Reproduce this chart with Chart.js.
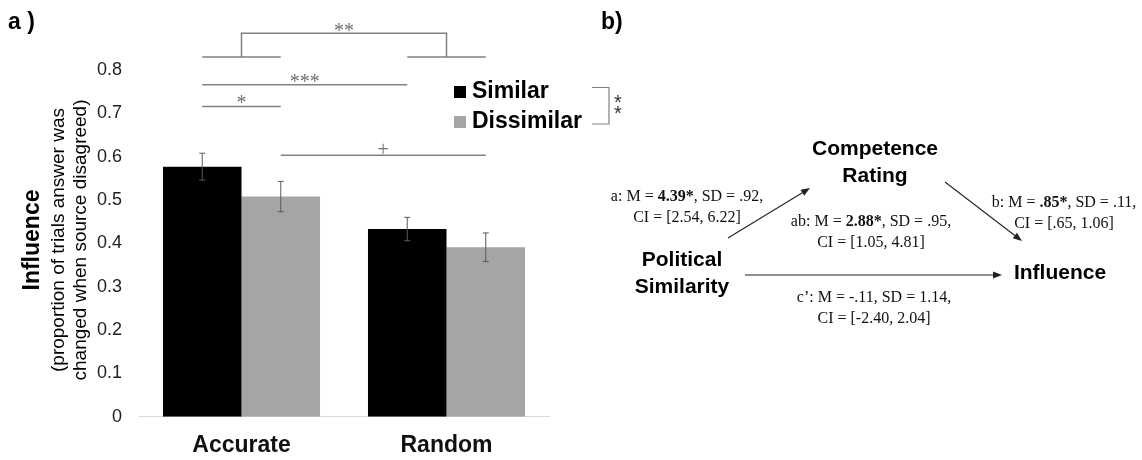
<!DOCTYPE html>
<html>
<head>
<meta charset="UTF-8">
<title>Influence</title>
<script src="https://cdn.jsdelivr.net/npm/chart.js@4.4.1/dist/chart.umd.min.js"></script>
<style>
  html, body { margin: 0; padding: 0; background: #fff; }
  #wrap { width: 1142px; height: 460px; }
</style>
</head>
<body>
<div id="wrap"><canvas id="wykres" width="1142" height="460"></canvas></div>
<script>
const categories = ['Accurate', 'Random'];
const seriesNames = ['Similar', 'Dissimilar'];
const similar = [0.577, 0.433];
const dissimilar = [0.508, 0.391];
const similarErr = [0.031, 0.027];
const dissimilarErr = [0.035, 0.033];
const yTickLabels = ['0', '0.1', '0.2', '0.3', '0.4', '0.5', '0.6', '0.7', '0.8'];

// significance marks between bars: [dataset, index], height in axis units
const comparisons = [
  { a: [0, 0], b: [1, 0], level: 0.716, mark: '*' },
  { a: [0, 0], b: [0, 1], level: 0.766, mark: '***' },
  { a: [1, 0], b: [1, 1], level: 0.603, mark: '+' }
];
const groupComparison = { level: 0.83, top: 0.885, mark: '**' };

// panel b text (<b> marks bold parts)
const pathLabels = [
  { x: 687, y: 197, lines: ['a: M = <b>4.39*</b>, SD = .92,', 'CI = [2.54, 6.22]'] },
  { x: 871, y: 222, lines: ['ab: M = <b>2.88*</b>, SD = .95,', 'CI = [1.05, 4.81]'] },
  { x: 1064, y: 203, lines: ['b: M = <b>.85*</b>, SD = .11,', 'CI = [.65, 1.06]'] },
  { x: 874, y: 298, lines: ['c\u2019: M = -.11, SD = 1.14,', 'CI = [-2.40, 2.04]'] }
];
const nodes = [
  { x: 875, y: 149, lines: ['Competence', 'Rating'] },
  { x: 682, y: 260, lines: ['Political', 'Similarity'] },
  { x: 1060, y: 273, lines: ['Influence'] }
];

const SANS = '"Liberation Sans", Arial, sans-serif';
const SERIF = '"Liberation Serif", "Times New Roman", serif';
const LINE = '#808080';

function centerText(ctx, txt, x, y) {
  ctx.textAlign = 'center';
  ctx.textBaseline = 'alphabetic';
  const m = ctx.measureText(txt);
  ctx.fillText(txt, x, y + (m.actualBoundingBoxAscent - m.actualBoundingBoxDescent) / 2);
}

function hline(ctx, x1, x2, y) {
  ctx.beginPath(); ctx.moveTo(x1, y); ctx.lineTo(x2, y); ctx.stroke();
}

function richLine(ctx, str, cx, cy) {
  const parts = str.split(/<\/?b>/);
  let total = 0;
  const w = parts.map((p, i) => {
    ctx.font = (i % 2 ? 'bold ' : '') + '16px ' + SERIF;
    const m = ctx.measureText(p).width;
    total += m;
    return m;
  });
  let x = cx - total / 2;
  ctx.textAlign = 'left';
  ctx.textBaseline = 'middle';
  parts.forEach((p, i) => {
    ctx.font = (i % 2 ? 'bold ' : '') + '16px ' + SERIF;
    ctx.fillText(p, x, cy);
    x += w[i];
  });
}

function arrow(ctx, x1, y1, x2, y2) {
  const ang = Math.atan2(y2 - y1, x2 - x1), len = 9, hw = 3.5;
  const bx = x2 - len * Math.cos(ang), by = y2 - len * Math.sin(ang);
  ctx.beginPath(); ctx.moveTo(x1, y1); ctx.lineTo(bx, by); ctx.stroke();
  ctx.beginPath();
  ctx.moveTo(x2, y2);
  ctx.lineTo(bx + hw * Math.sin(ang), by - hw * Math.cos(ang));
  ctx.lineTo(bx - hw * Math.sin(ang), by + hw * Math.cos(ang));
  ctx.closePath(); ctx.fill();
}

const extras = {
  id: 'extras',
  afterDatasetsDraw(chart) {
    const ctx = chart.ctx;
    const ys = chart.scales.y, xs = chart.scales.x;
    const errs = [similarErr, dissimilarErr];
    ctx.save();

    // error bars
    ctx.strokeStyle = '#5a5a5a';
    ctx.lineWidth = 1;
    chart.data.datasets.forEach((ds, d) => {
      chart.getDatasetMeta(d).data.forEach((bar, i) => {
        const top = ys.getPixelForValue(ds.data[i] + errs[d][i]);
        const bot = ys.getPixelForValue(ds.data[i] - errs[d][i]);
        ctx.beginPath();
        ctx.moveTo(bar.x, top); ctx.lineTo(bar.x, bot);
        ctx.moveTo(bar.x - 3, top); ctx.lineTo(bar.x + 3, top);
        ctx.moveTo(bar.x - 3, bot); ctx.lineTo(bar.x + 3, bot);
        ctx.stroke();
      });
    });

    // significance lines
    const bx = (p) => chart.getDatasetMeta(p[0]).data[p[1]].x;
    ctx.strokeStyle = LINE;
    ctx.fillStyle = '#6e6e6e';
    ctx.lineWidth = 1.5;
    comparisons.forEach(c => {
      const y = ys.getPixelForValue(c.level);
      const x1 = bx(c.a), x2 = bx(c.b);
      hline(ctx, x1, x2, y);
      ctx.font = '20px ' + SERIF;
      centerText(ctx, c.mark, (x1 + x2) / 2, y - 7);
    });
    const gl = ys.getPixelForValue(groupComparison.level);
    const gt = ys.getPixelForValue(groupComparison.top);
    hline(ctx, bx([0, 0]), bx([1, 0]), gl);
    hline(ctx, bx([0, 1]), bx([1, 1]), gl);
    const c0 = xs.getPixelForValue(0), c1 = xs.getPixelForValue(1);
    ctx.beginPath();
    ctx.moveTo(c0, gl); ctx.lineTo(c0, gt); ctx.lineTo(c1, gt); ctx.lineTo(c1, gl);
    ctx.stroke();
    ctx.font = '20px ' + SERIF;
    centerText(ctx, groupComparison.mark, (c0 + c1) / 2, gt - 6);

    // legend
    chart.data.datasets.forEach((ds, d) => {
      const cy = 92 + d * 30;
      ctx.fillStyle = ds.backgroundColor;
      ctx.fillRect(454, cy - 6, 12, 12);
      ctx.fillStyle = '#000';
      ctx.font = 'bold 23px ' + SANS;
      ctx.textAlign = 'left';
      ctx.textBaseline = 'middle';
      ctx.fillText(ds.label, 472, cy);
    });
    ctx.strokeStyle = LINE;
    ctx.lineWidth = 1.2;
    ctx.beginPath();
    ctx.moveTo(592, 87.5); ctx.lineTo(609, 87.5); ctx.lineTo(609, 124); ctx.lineTo(592, 124);
    ctx.stroke();
    ctx.fillStyle = '#333';
    ctx.font = '20px ' + SANS;
    centerText(ctx, '*', 618, 99);
    centerText(ctx, '*', 618, 110);

    // panel labels
    ctx.fillStyle = '#000';
    ctx.font = 'bold 23px ' + SANS;
    ctx.textAlign = 'left';
    ctx.textBaseline = 'middle';
    ctx.fillText('a )', 8, 23);
    ctx.fillText('b)', 601, 23);

    // y axis title
    ctx.save();
    ctx.translate(0, 240);
    ctx.rotate(-Math.PI / 2);
    ctx.textAlign = 'center';
    ctx.textBaseline = 'middle';
    ctx.font = 'bold 23px ' + SANS;
    ctx.fillText('Influence', 0, 33);
    ctx.font = '19px ' + SANS;
    ctx.fillText('(proportion of trials answer was', 0, 59);
    ctx.fillText('changed when source disagreed)', 0, 81);
    ctx.restore();

    // panel b: mediation diagram
    ctx.fillStyle = '#000';
    ctx.font = 'bold 21px ' + SANS;
    ctx.textAlign = 'center';
    ctx.textBaseline = 'middle';
    nodes.forEach(n => n.lines.forEach((t, i) => ctx.fillText(t, n.x, n.y + i * 27)));
    ctx.fillStyle = '#111';
    pathLabels.forEach(p => p.lines.forEach((t, i) => richLine(ctx, t, p.x, p.y + i * 21)));
    ctx.strokeStyle = '#222';
    ctx.fillStyle = '#222';
    ctx.lineWidth = 1.1;
    arrow(ctx, 728, 238, 810, 188);
    arrow(ctx, 945, 182, 1022, 241);
    arrow(ctx, 745, 275, 1002, 275);

    ctx.restore();
  }
};

new Chart(document.getElementById('wykres'), {
  type: 'bar',
  data: {
    labels: categories,
    datasets: [
      { label: seriesNames[0], data: similar, backgroundColor: '#000000' },
      { label: seriesNames[1], data: dissimilar, backgroundColor: '#a5a5a5' }
    ]
  },
  options: {
    responsive: false,
    animation: false,
    events: [],
    layout: { padding: { left: 0, top: 70, right: 593, bottom: 0 } },
    datasets: { bar: { barPercentage: 1, categoryPercentage: 0.766 } },
    plugins: { legend: { display: false }, tooltip: { enabled: false } },
    scales: {
      x: {
        grid: { display: false, drawTicks: false },
        border: { display: true, color: '#d9d9d9', width: 1 },
        ticks: { color: '#111', padding: 15, font: { family: SANS, size: 23, weight: 'bold' } },
        afterFit: s => { s.height = 43.3; }
      },
      y: {
        min: 0, max: 0.8,
        grid: { display: false, drawTicks: false },
        border: { display: false },
        ticks: {
          stepSize: 0.1, padding: 17, color: '#222',
          font: { family: SANS, size: 18 },
          callback: (v, i) => yTickLabels[i]
        },
        afterFit: s => { s.width = 139; }
      }
    }
  },
  plugins: [extras]
});
</script>
</body>
</html>
